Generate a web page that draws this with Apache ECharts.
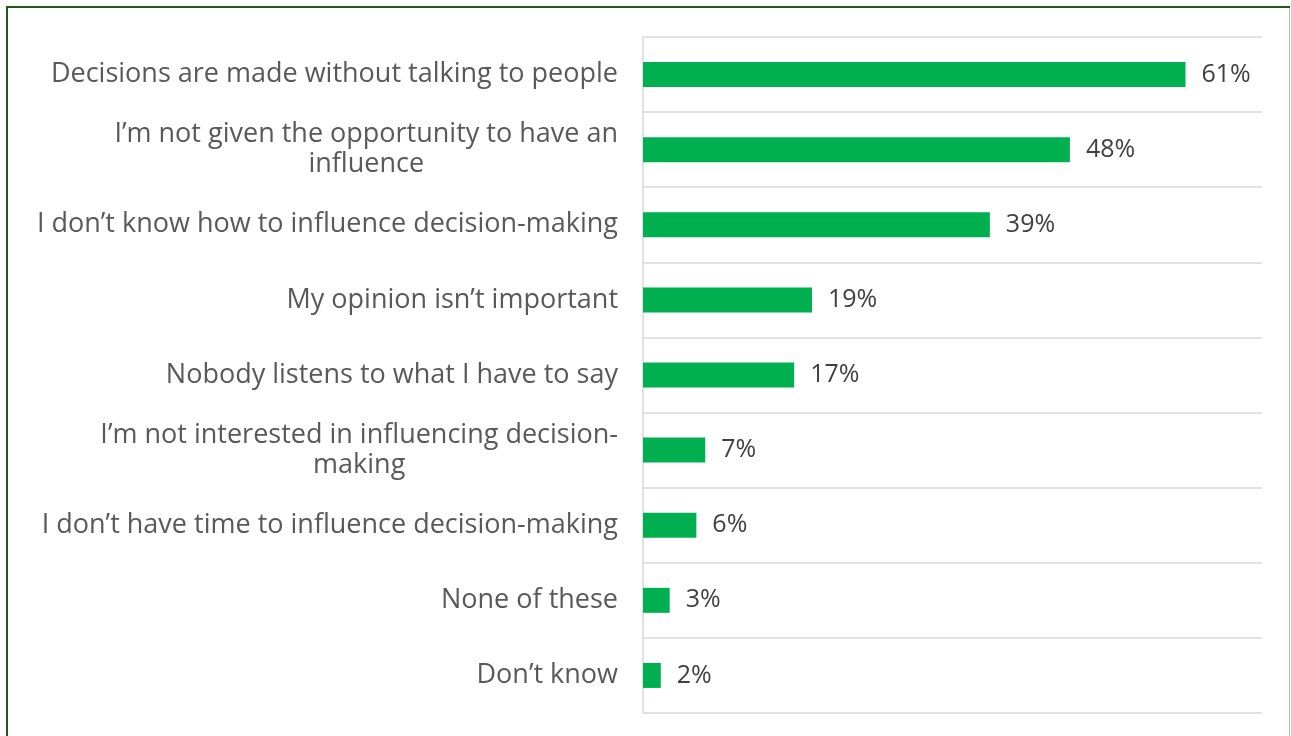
<!DOCTYPE html>
<html>
<head>
<meta charset="utf-8">
<script src="https://cdn.jsdelivr.net/npm/echarts@6/dist/echarts.min.js"></script>
<style>
  html, body { margin: 0; padding: 0; background: #ffffff; }
  #chart { width: 1291px; height: 736px; }
</style>
</head>
<body>
<div id="chart"></div>
<script>
// Reasons given for not influencing decisions (share of respondents, %)
const categories = [
  'Decisions are made without talking to people',
  'I’m not given the opportunity to have an\ninfluence',
  'I don’t know how to influence decision-making',
  'My opinion isn’t important',
  'Nobody listens to what I have to say',
  'I’m not interested in influencing decision-\nmaking',
  'I don’t have time to influence decision-making',
  'None of these',
  'Don’t know'
];
const values = [61, 48, 39, 19, 17, 7, 6, 3, 2];

const FONT = 'Open Sans';

const chart = echarts.init(document.getElementById('chart'), null, { renderer: 'canvas' });

chart.setOption({
  animation: false,
  backgroundColor: '#ffffff',
  grid: { left: 643, top: 37, right: 29, bottom: 23, containLabel: false },
  xAxis: {
    type: 'value',
    min: 0,
    max: 69.6,
    show: false
  },
  yAxis: {
    type: 'category',
    inverse: true,
    data: categories,
    boundaryGap: true,
    axisLine: { show: true, lineStyle: { color: '#d9d9d9', width: 1.5 } },
    axisTick: { show: false },
    splitLine: { show: true, lineStyle: { color: '#d9d9d9', width: 1.5 } },
    axisLabel: {
      margin: 25,
      align: 'right',
      // each wrapped line is centred within the label block
      formatter: v => v.split('\n').map(s => '{c|' + s + '}').join('\n'),
      rich: {
        c: {
          align: 'center',
          fontFamily: FONT,
          fontSize: 27,
          lineHeight: 30,
          color: '#595959'
        }
      }
    }
  },
  series: [{
    type: 'bar',
    data: values,
    barWidth: 25,
    itemStyle: { color: '#00b050' },
    label: {
      show: true,
      position: 'right',
      distance: 16,
      formatter: p => p.value + '%',
      fontFamily: FONT,
      fontSize: 25,
      color: '#404040'
    }
  }],
  graphic: [
    // outer frame: dark top and left edges, light right edge
    { type: 'line', shape: { x1: 6, y1: 7, x2: 1290, y2: 7 }, style: { stroke: '#1f5a1c', lineWidth: 2 }, silent: true },
    { type: 'line', shape: { x1: 7, y1: 6, x2: 7, y2: 736 }, style: { stroke: '#1f5a1c', lineWidth: 2 }, silent: true },
    { type: 'line', shape: { x1: 1289.5, y1: 8, x2: 1289.5, y2: 736 }, style: { stroke: '#a8c6a6', lineWidth: 1 }, silent: true }
  ]
});
</script>
</body>
</html>
